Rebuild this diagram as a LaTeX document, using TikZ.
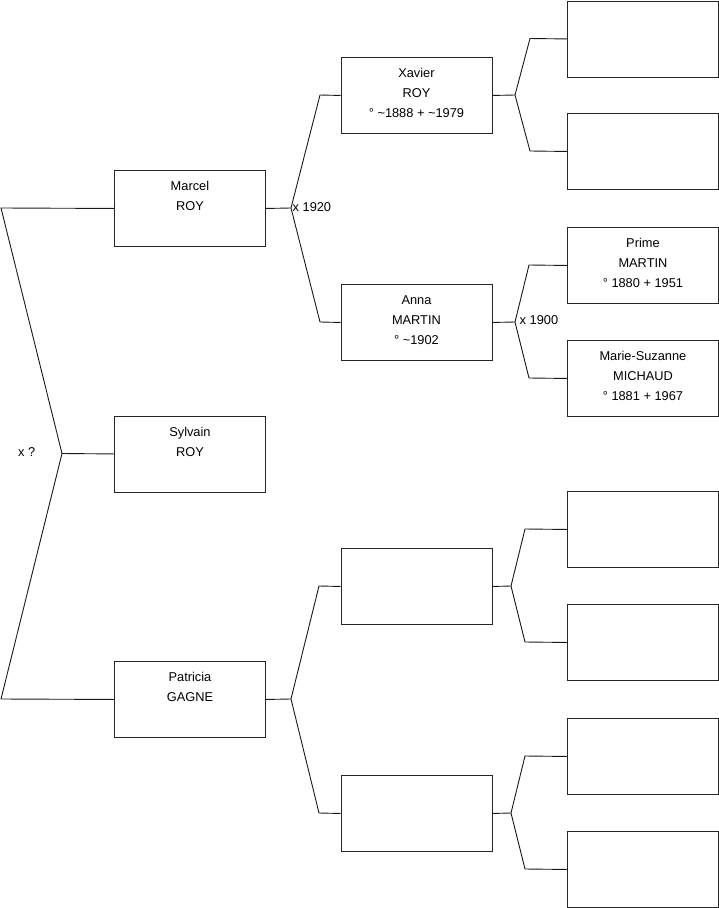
\documentclass[tikz,border=0pt]{standalone}
\usepackage{fontspec}
\setmainfont{Liberation Sans}
\newcommand\boxtxt[1]{\parbox[c][76pt][t]{151pt}{\centering\fontsize{12.8}{20}\selectfont\vspace*{11pt}#1\par}}
\tikzset{
  person/.style={draw=black!85, line width=0.9pt, anchor=north west, inner sep=0pt, minimum width=151pt, minimum height=76pt},
  link/.style={draw=black!90, line width=0.9pt},
  marr/.style={font=\fontsize{12.8}{14}\selectfont, inner sep=0pt}
}
\begin{document}
\begin{tikzpicture}[x=1pt,y=-1pt]
\useasboundingbox (0,0) rectangle (719,908);
% generation 1
\node[person] (marcel) at (114,170) {\boxtxt{Marcel\\ROY}};
\node[person] (sylvain) at (114,415.5) {\boxtxt{Sylvain\\ROY}};
\node[person] (patricia) at (114,661) {\boxtxt{Patricia\\GAGNE}};
% generation 2
\node[person] (xavier) at (340.5,57) {\boxtxt{Xavier\\ROY\\° \textasciitilde 1888 + \textasciitilde 1979}};
\node[person] (anna) at (340.5,284) {\boxtxt{Anna\\MARTIN\\° \textasciitilde 1902}};
\node[person] (pa) at (340.5,548) {\boxtxt{}};
\node[person] (pb) at (340.5,775) {\boxtxt{}};
% generation 3
\node[person] (xa) at (567,0.5) {\boxtxt{}};
\node[person] (xb) at (567,113) {\boxtxt{}};
\node[person] (prime) at (567,227) {\boxtxt{Prime\\MARTIN\\° 1880 + 1951}};
\node[person] (ms) at (567,340) {\boxtxt{Marie-Suzanne\\MICHAUD\\° 1881 + 1967}};
\node[person] (paa) at (567,491) {\boxtxt{}};
\node[person] (pab) at (567,604) {\boxtxt{}};
\node[person] (pba) at (567,718) {\boxtxt{}};
\node[person] (pbb) at (567,831) {\boxtxt{}};
% fork points
\coordinate (ltop) at (1,208);
\coordinate (lmid) at (62,453.5);
\coordinate (lbot) at (1,699);
\coordinate (fm) at (291,208);
\coordinate (fm1) at (320,95);
\coordinate (fm2) at (320,322);
\coordinate (fp) at (291,699);
\coordinate (fp1) at (319,586);
\coordinate (fp2) at (319,813);
\coordinate (fx) at (515,95);
\coordinate (fx1) at (530,38.5);
\coordinate (fx2) at (530,151);
\coordinate (fa) at (515,322);
\coordinate (fa1) at (529,265);
\coordinate (fa2) at (529,378);
\coordinate (fpa) at (511,586);
\coordinate (fpa1) at (525,529);
\coordinate (fpa2) at (525,642);
\coordinate (fpb) at (511,813);
\coordinate (fpb1) at (525,756);
\coordinate (fpb2) at (525,869);
% connectors
\draw[link] (marcel.west) -- (ltop) -- (lmid) -- (lbot) -- (patricia.west);
\draw[link] (lmid) -- (sylvain.west);
\draw[link] (marcel.east) -- (fm);
\draw[link] (xavier.west) -- (fm1) -- (fm) -- (fm2) -- (anna.west);
\draw[link] (patricia.east) -- (fp);
\draw[link] (pa.west) -- (fp1) -- (fp) -- (fp2) -- (pb.west);
\draw[link] (xavier.east) -- (fx);
\draw[link] (xa.west) -- (fx1) -- (fx) -- (fx2) -- (xb.west);
\draw[link] (anna.east) -- (fa);
\draw[link] (prime.west) -- (fa1) -- (fa) -- (fa2) -- (ms.west);
\draw[link] (pa.east) -- (fpa);
\draw[link] (paa.west) -- (fpa1) -- (fpa) -- (fpa2) -- (pab.west);
\draw[link] (pb.east) -- (fpb);
\draw[link] (pba.west) -- (fpb1) -- (fpb) -- (fpb2) -- (pbb.west);
% marriage labels
\node[marr, anchor=west] (m0) at (18,452) {x ?};
\node[marr, anchor=west] (m1) at (292.5,207) {x 1920};
\node[marr, anchor=west] (m2) at (519.5,320) {x 1900};
\end{tikzpicture}
\end{document}
